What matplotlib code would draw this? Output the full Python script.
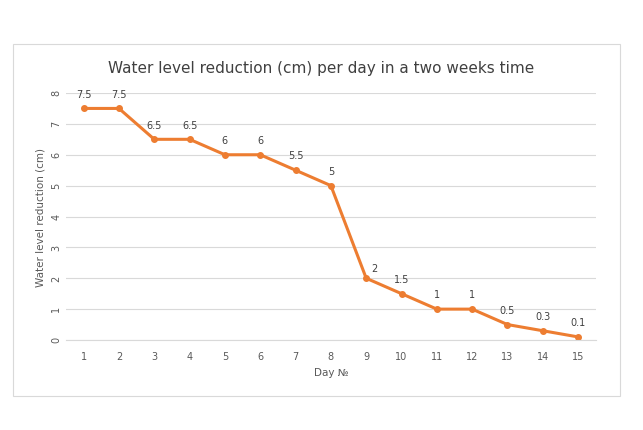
import matplotlib.pyplot as plt
from matplotlib.patches import Rectangle

days = list(range(1, 16))
reduction = [7.5, 7.5, 6.5, 6.5, 6, 6, 5.5, 5, 2, 1.5, 1, 1, 0.5, 0.3, 0.1]
labels = ["7.5", "7.5", "6.5", "6.5", "6", "6", "5.5", "5", "2", "1.5", "1", "1", "0.5", "0.3", "0.1"]

fig = plt.figure(figsize=(6.43, 4.31), dpi=100)
fig.patches.append(Rectangle((0.02, 0.08), 0.945, 0.815, transform=fig.transFigure,
                             fill=False, edgecolor="#d9d9d9", linewidth=0.8))
ax = fig.add_axes([0.1026, 0.2088, 0.824, 0.5731])
col = "#ED7D31"
ax.plot(days, reduction, color=col, linewidth=2.2, marker="o", markersize=4)
for d, v, t in zip(days, reduction, labels):
    off = (6, 4) if t == "2" else (0, 7)
    ax.annotate(t, (d, v), xytext=off, textcoords="offset points",
                ha="center", va="bottom", fontsize=7, color="#404040")

ax.set_xlim(0.5, 15.5)
ax.set_ylim(0, 8)
ax.set_xticks(days)
ax.set_yticks(range(0, 9))
ax.tick_params(axis="y", labelrotation=90, length=0, labelsize=7, colors="#595959")
ax.tick_params(axis="x", length=0, labelsize=7, colors="#595959", pad=8)
ax.grid(axis="y", color="#d9d9d9", linewidth=0.8)
ax.set_axisbelow(True)
for s in ["top", "right", "left"]:
    ax.spines[s].set_visible(False)
ax.spines["bottom"].set_color("#d9d9d9")
ax.set_xlabel("Day №", fontsize=7.5, color="#595959")
ax.set_ylabel("Water level reduction (cm)", fontsize=7.5, color="#595959")
fig.text(0.5, 0.842, "Water level reduction (cm) per day in a two weeks time",
         ha="center", va="center", fontsize=11, color="#404040")
fig.savefig("out.png", dpi=100)
